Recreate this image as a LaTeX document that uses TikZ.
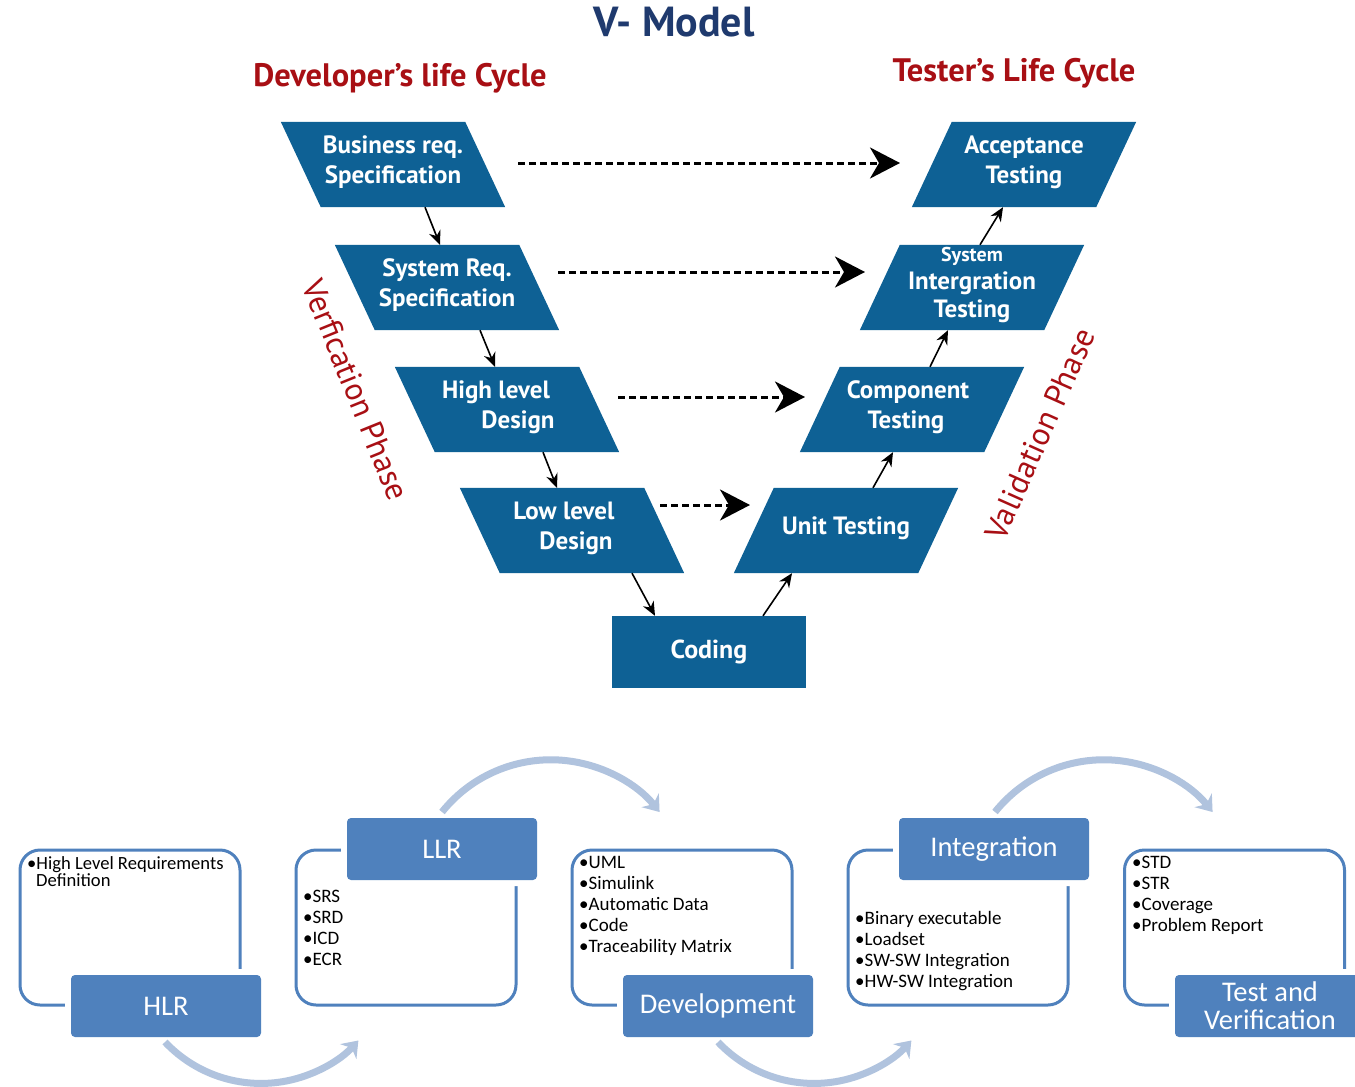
\documentclass[tikz,border=0pt]{standalone}
\usepackage{fontspec}
\setmainfont{PT Sans}
\newfontfamily\calfont{Carlito}
\usetikzlibrary{arrows.meta,calc,backgrounds}
\definecolor{vblue}{HTML}{0E6195}
\definecolor{vnavy}{HTML}{1F3A6E}
\definecolor{vred}{HTML}{A80F14}
\definecolor{bblue}{HTML}{4F81BD}
\definecolor{flowc}{HTML}{B0C3DE}
\tikzset{
  vpar/.style={minimum width=184pt, minimum height=85pt, inner sep=0pt, text=white, align=center,
    font=\bfseries\fontsize{25}{30}\selectfont},
  codebox/.style={fill=vblue, minimum width=194pt, minimum height=72pt, inner sep=0pt, text=white,
    font=\bfseries\fontsize{26}{30}\selectfont},
  redhead/.style={text=vred, font=\bfseries\fontsize{32.5}{36}\selectfont},
  redrot/.style={text=vred, font=\fontsize{32}{34}\selectfont},
  solidarr/.style={-{Stealth[length=14pt,width=12pt]}, line width=1.6pt},
  dasharr/.style={-{Stealth[length=30pt,width=31pt,inset=9pt]}, line width=3pt, dash pattern=on 7pt off 4pt},
  outl/.style={draw=bblue, line width=3pt, rounded corners=20pt, minimum width=220pt, minimum height=155pt},
  lab/.style={fill=bblue, rounded corners=4pt, minimum width=190pt, minimum height=62pt, inner sep=0pt,
    text=white, align=center, font=\calfont\fontsize{28.5}{28}\selectfont,
    preaction={draw=white, line width=12pt}},
  lst/.style={anchor=north west, inner sep=0pt, align=left, font=\calfont\fontsize{19}{21}\selectfont},
  flow/.style={draw=flowc, line width=7pt, -{Stealth[length=15pt,width=22pt,inset=5pt]}}
}
\begin{document}
\begin{tikzpicture}[x=1pt,y=-1pt]
\clip (0,0) rectangle (1355,1087);

% titles
\node[text=vnavy, font=\bfseries\fontsize{42}{46}\selectfont] (title) at (674,22) {V- Model};
\node[redhead] (devlc) at (400,78) {Developer’s life Cycle};
\node[redhead] (tstlc) at (1014,73) {Tester’s Life Cycle};
\node[redrot, rotate=-68] (verph) at (356,390) {Verfication Phase};
\node[redrot, rotate=66] (valph) at (1040,434) {Validation Phase};

% V nodes
\node[vpar] (brs) at (393,162) {Business req.\\Specification};
\node[vpar] (srs) at (447,285) {System Req.\\Specification};
\node[vpar] (hld) at (507,407) {High level\hspace*{22pt}\\\hspace*{22pt}Design};
\node[vpar] (lld) at (570,528) {Low level\hspace*{12pt}\\\hspace*{12pt}Design};
\node[vpar] (at) at (1024,162) {Acceptance\\Testing};
\node[vpar, font=\bfseries\fontsize{25}{28}\selectfont] (sit) at (972,285) {{\fontsize{20}{22}\selectfont System}\\Intergration\\Testing};
\node[vpar] (ct) at (912,407) {Component\hspace*{8pt}\\Testing\hspace*{12pt}};
\node[vpar] (ut) at (846,528) {Unit Testing};
\node[codebox] (cod) at (709,652) {Coding};

\begin{scope}[on background layer]
\fill[white] (0,0) rectangle (1355,1087);
\foreach \n/\dx in {brs/0,srs/0,hld/0,lld/2}
  \fill[vblue] ($(\n.north west)+(-20+\dx,2.5)$) -- ($(\n.north east)+(-20+\dx,2.5)$)
     -- ($(\n.south east)+(20+\dx,2.5)$) -- ($(\n.south west)+(20+\dx,2.5)$) -- cycle;
\foreach \n in {at,sit,ct,ut}
  \fill[vblue] ($(\n.north west)+(20,2.5)$) -- ($(\n.north east)+(20,2.5)$)
     -- ($(\n.south east)+(-20,2.5)$) -- ($(\n.south west)+(-20,2.5)$) -- cycle;
\end{scope}

% solid arrows
\draw[solidarr] ($(brs.south)+(32,2.5)$) -- ($(srs.north)+(-7,2.5)$);
\draw[solidarr] ($(srs.south)+(33,2.5)$) -- ($(hld.north)+(-12,2.5)$);
\draw[solidarr] ($(hld.south)+(36,2.5)$) -- ($(lld.north)+(-13,2.5)$);
\draw[solidarr] ($(lld.south)+(62,2.5)$) -- ($(cod.north)+(-54,0)$);
\draw[solidarr] ($(cod.north)+(54,0)$) -- ($(ut.south)+(-54,2.5)$);
\draw[solidarr] ($(ut.north)+(27,2.5)$) -- ($(ct.south)+(-19,2.5)$);
\draw[solidarr] ($(ct.north)+(18,2.5)$) -- ($(sit.south)+(-24,2.5)$);
\draw[solidarr] ($(sit.north)+(8,2.5)$) -- ($(at.south)+(-21,2.5)$);

% dashed arrows
\draw[dasharr] ($(brs.center)+(125,1)$) -- ($(at.center)+(-124,1)$);
\draw[dasharr] ($(srs.center)+(111,-13)$) -- ($(sit.center)+(-107,-13)$);
\draw[dasharr] ($(hld.center)+(111,-10)$) -- ($(ct.center)+(-107,-10)$);
\draw[dasharr] ($(lld.center)+(90,-23)$) -- ($(ut.center)+(-96,-23)$);

% bottom outlines
\node[outl] (o1) at (130,927.5) {};
\node[outl] (o2) at (406,927.5) {};
\node[outl] (o3) at (682,927.5) {};
\node[outl] (o4) at (958,927.5) {};
\node[outl] (o5) at (1234.5,927.5) {};

% lists
\node[lst, font=\calfont\fontsize{18.6}{17}\selectfont] (t1) at (27,856) {•High Level Requirements\\\hspace*{9pt}Definition};
\node[lst] (t2) at (303,890) {•SRS\\•SRD\\•ICD\\•ECR};
\node[lst] (t3) at (579,856) {•UML\\•Simulink\\•Automatic Data\\•Code\\•Traceability Matrix};
\node[lst] (t4) at (855,911) {•Binary executable\\•Loadset\\•SW-SW Integration\\•HW-SW Integration};
\node[lst] (t5) at (1132,856) {•STD\\•STR\\•Coverage\\•Problem Report};

% labels
\node[lab] (hlr) at (166,1006) {HLR};
\node[lab] (llr) at (442,849) {LLR};
\node[lab] (dev) at (718,1006) {Development};
\node[lab] (int) at (994,849) {Integration};
\node[lab] (tav) at (1270,1006) {Test and\\Verification};

% flow arcs
\coordinate (fa1) at (165,1042);
\coordinate (fb1) at (442,812);
\coordinate (fa2) at (718,1042);
\coordinate (fb2) at (995,812);
\draw[flow] (fa1) arc[start angle=136.7, end angle=42.4, radius=131.9];
\draw[flow] (fb1) arc[start angle=-141.3, end angle=-38.7, radius=139.4];
\draw[flow] (fa2) arc[start angle=136.7, end angle=42.4, radius=131.9];
\draw[flow] (fb2) arc[start angle=-141.3, end angle=-38.7, radius=139.4];
\end{tikzpicture}
\end{document}
